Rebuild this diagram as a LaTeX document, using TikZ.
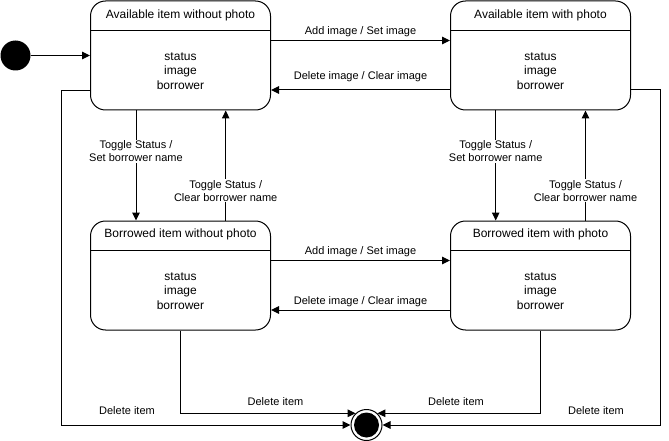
\documentclass[tikz,border=0pt]{standalone}
\usepackage{fontspec}
\setmainfont{Liberation Sans}
\usetikzlibrary{arrows.meta}

\begin{document}
\begin{tikzpicture}[x=1pt,y=-1pt,line width=1pt,>={Triangle[length=8pt,width=7.5pt]},
  state/.style={draw,rounded corners=15pt,minimum width=180pt,minimum height=109pt,inner sep=0pt},
  head/.style={font=\fontsize{12}{14.4}\selectfont},
  body/.style={font=\fontsize{12}{14.4}\selectfont,align=center},
  lbl/.style={font=\fontsize{11}{13.2}\selectfont,align=center,fill=white,inner sep=1pt}]
  \useasboundingbox (0,0) rectangle (669,441);
  % states
  \node[state] (a1) at (180.5,55.5) {};
  \node[head] (a1h) at (180.5,15) {Available item without photo};
  \draw (a1.west |- 0,30.5) -- (a1.east |- 0,30.5);
  \node[body] (a1b) at (180.5,71) {status\\image\\borrower};
  \node[state] (a2) at (540.5,55.5) {};
  \node[head] (a2h) at (540.5,15) {Available item with photo};
  \draw (a2.west |- 0,30.5) -- (a2.east |- 0,30.5);
  \node[body] (a2b) at (540.5,71) {status\\image\\borrower};
  \node[state] (b1) at (180.5,275.5) {};
  \node[head] (b1h) at (180.5,234.5) {Borrowed item without photo};
  \draw (b1.west |- 0,250.5) -- (b1.east |- 0,250.5);
  \node[body] (b1b) at (180.5,291) {status\\image\\borrower};
  \node[state] (b2) at (540.5,275.5) {};
  \node[head] (b2h) at (540.5,234.5) {Borrowed item with photo};
  \draw (b2.west |- 0,250.5) -- (b2.east |- 0,250.5);
  \node[body] (b2b) at (540.5,291) {status\\image\\borrower};
  % start and end
  \node[circle,fill,minimum size=30pt,inner sep=0pt] (init) at (15.5,55.5) {};
  \node[circle,draw,minimum size=31pt,inner sep=0pt] (fin) at (366.5,425) {};
  \node[circle,fill,minimum size=25pt,inner sep=0pt] (findot) at (fin) {};
  \draw[->] (init) -- (a1);
  % image
  \draw[->] (a1.east |- 0,40.5) -- (a2.west |- 0,40.5) node[lbl,midway,above=2pt] (addA) {Add image / Set image};
  \draw[->] (a2.west |- 0,90) -- (a1.east |- 0,90) node[lbl,midway,above=6.5pt] (delA) {Delete image / Clear image};
  \draw[->] (b1.east |- 0,260.5) -- (b2.west |- 0,260.5) node[lbl,midway,above=2pt] (addB) {Add image / Set image};
  \draw[->] (b2.west |- 0,310) -- (b1.east |- 0,310) node[lbl,midway,above=2pt] (delB) {Delete image / Clear image};
  % status
  \draw[->] (a1.south -| 136,0) -- (b1.north -| 136,0) node[lbl,pos=0.37] (setL) {Toggle Status /\\Set borrower name};
  \draw[->] (b1.north -| 225.7,0) -- (a1.south -| 225.7,0) node[lbl,pos=0.27] (clrL) {Toggle Status /\\Clear borrower name};
  \draw[->] (a2.south -| 495.7,0) -- (b2.north -| 495.7,0) node[lbl,pos=0.37] (setR) {Toggle Status /\\Set borrower name};
  \draw[->] (b2.north -| 585.5,0) -- (a2.south -| 585.5,0) node[lbl,pos=0.27] (clrR) {Toggle Status /\\Clear borrower name};
  % delete
  \draw[->] (a1.west |- 0,90.5) -- (61,90.5) |- (fin.west);
  \draw[->] (a2.east |- 0,90) -- (660,90) |- (fin.east);
  \draw[->] (b1.south) |- (fin.133);
  \draw[->] (b2.south) |- (fin.47);
  \node[lbl] (delL) at (127,411) {Delete item};
  \node[lbl] (delBL) at (275.5,401.5) {Delete item};
  \node[lbl] (delBR) at (456,401.5) {Delete item};
  \node[lbl] (delR) at (596,411) {Delete item};
\end{tikzpicture}
\end{document}
